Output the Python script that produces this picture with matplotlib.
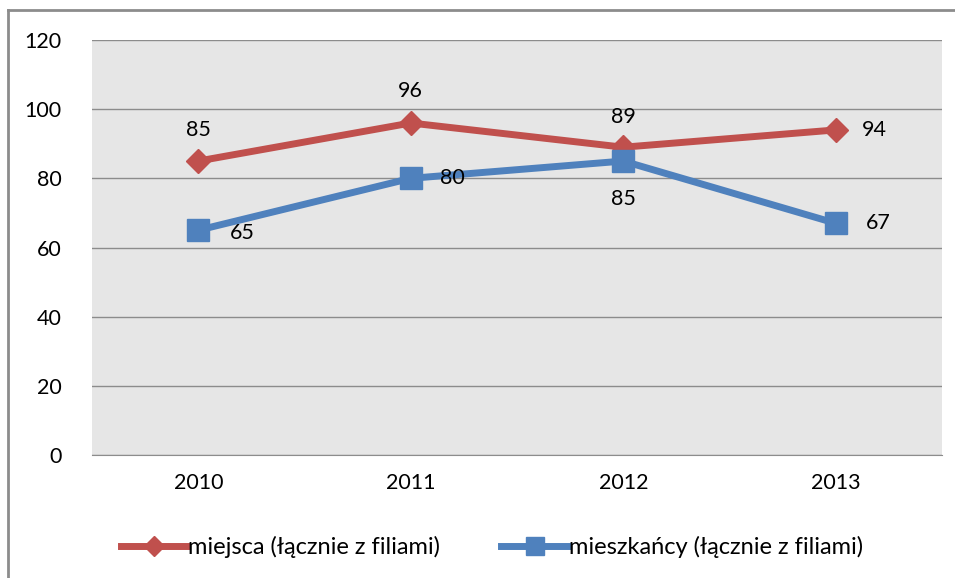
import matplotlib
matplotlib.use("Agg")
import matplotlib.pyplot as plt
from matplotlib.lines import Line2D

plt.rcParams['font.family'] = ['Lato', 'DejaVu Sans']

years = ["2010", "2011", "2012", "2013"]
miejsca = [85, 96, 89, 94]
mieszkancy = [65, 80, 85, 67]
yticks = [0, 20, 40, 60, 80, 100, 120]

red = "#C0504D"
blue = "#4F81BD"

fig = plt.figure(figsize=(9.55, 5.78), dpi=100)
ax = fig.add_axes([92/955, 1-455/578, (942-92)/955, (455-40)/578])
ax.set_facecolor("#E6E6E6")

x = list(range(len(years)))
ax.plot(x, miejsca, color=red, lw=5, marker="D", ms=12, mec=red, mfc=red,
        label="miejsca (łącznie z filiami)", zorder=3)
ax.plot(x, mieszkancy, color=blue, lw=5, marker="s", ms=16, mec=blue, mfc=blue,
        label="mieszkańcy (łącznie z filiami)", zorder=3)

fs = 15.5
red_off = [(0, 22), (0, 23), (0, 22), (28, 0)]
for i, v in enumerate(miejsca):
    dx, dy = red_off[i]
    ax.annotate(str(v), (i, v), xytext=(dx, dy), textcoords="offset points",
                ha="center", va="center", fontsize=fs)
blue_off = [(32, -2), (30, 0), (0, -27), (31, 0)]
for i, v in enumerate(mieszkancy):
    dx, dy = blue_off[i]
    ax.annotate(str(v), (i, v), xytext=(dx, dy), textcoords="offset points",
                ha="center", va="center", fontsize=fs)

ax.set_xlim(-0.5, 3.5)
ax.set_ylim(0, 120)
ax.set_yticks(yticks)
ax.set_xticks(x)
ax.set_xticklabels(years)
ax.yaxis.grid(True, color="#8C8C8C", lw=1)
ax.set_axisbelow(True)
for s in ax.spines.values():
    s.set_visible(False)
ax.spines["bottom"].set_visible(True)
ax.spines["bottom"].set_color("#8C8C8C")
ax.tick_params(axis="both", length=0, labelsize=fs, colors="black")
ax.tick_params(axis="y", pad=22)
ax.tick_params(axis="x", pad=13)

leg = fig.legend(loc="center", bbox_to_anchor=(0.515, 1-547/578), ncol=2, frameon=False,
                 fontsize=17, handlelength=2.8, handletextpad=0.05, columnspacing=2.6,
                 markerscale=0.85)

fig.add_artist(Line2D([8/955, 8/955], [0, 1-10/578], color="#8C8C8C", lw=2,
                      transform=fig.transFigure))
fig.add_artist(Line2D([8/955, 1], [1-10/578, 1-10/578], color="#8C8C8C", lw=2,
                      transform=fig.transFigure))

fig.savefig("out.png", dpi=100, facecolor="white")
